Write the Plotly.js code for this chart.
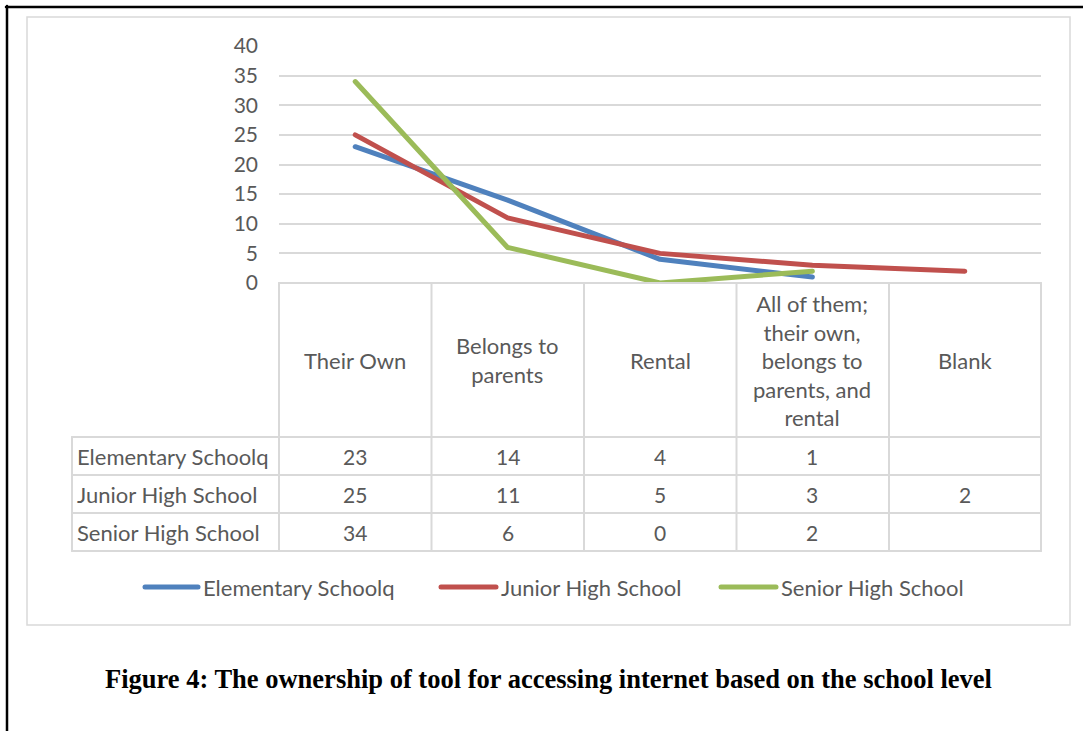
<!DOCTYPE html>
<html>
<head>
<meta charset="utf-8">
<script src="https://cdn.plot.ly/plotly-3.0.1.min.js"></script>
<style>
html,body{margin:0;padding:0;background:#fff;}
#chart{width:1083px;height:731px;}
#chart .scatterlayer path.js-line{stroke-linecap:round;stroke-linejoin:round;}
#chart .shapelayer path{stroke-linecap:round;}
</style>
</head>
<body>
<div id="chart"></div>
<script>
// ---- data ----
var categories = ["Their Own", "Belongs to<br>parents", "Rental", "All of them;<br>their own,<br>belongs to<br>parents, and<br>rental", "Blank"];
var seriesNames = ["Elementary Schoolq", "Junior High School", "Senior High School"];
var elementary = [23, 14, 4, 1, null];
var junior = [25, 11, 5, 3, 2];
var senior = [34, 6, 0, 2, null];
var yTicks = [0, 5, 10, 15, 20, 25, 30, 35, 40];
var caption = "Figure 4: The ownership of tool for accessing internet based on the school level";

var seriesValues = [elementary, junior, senior];
var colors = ["#4F81BD", "#C0504D", "#9BBB59"];

// ---- geometry helpers (pixel -> paper) ----
var L = 279, R = 1041, T = 46, B = 283;
function px(x) { return (x - L) / (R - L); }
function py(y) { return (B - y) / (B - T); }

var FONT = "Lato, 'Open Sans', sans-serif";
var TXT = "#595959";
var GRID = "#d9d9d9";

var xIdx = categories.map(function (c, i) { return i; });

var traces = seriesValues.map(function (vals, s) {
  return {
    type: "scatter",
    mode: "lines",
    name: seriesNames[s],
    x: xIdx,
    y: vals,
    connectgaps: false,
    line: { color: colors[s], width: 5 },
    hoverinfo: "skip",
    showlegend: false,
    cliponaxis: false
  };
});

var shapes = [];
var annotations = [];

function hline(x0, x1, y, color, w) {
  shapes.push({ type: "line", xref: "paper", yref: "paper", x0: px(x0), x1: px(x1), y0: py(y), y1: py(y), line: { color: color, width: w } });
}
function vline(x, y0, y1, color, w) {
  shapes.push({ type: "line", xref: "paper", yref: "paper", x0: px(x), x1: px(x), y0: py(y0), y1: py(y1), line: { color: color, width: w } });
}

// outer black frame (left and top)
hline(6, 1090, 7, "#000", 2.5);
vline(7, 6, 740, "#000", 2.5);
// chart area border
shapes.push({ type: "rect", xref: "paper", yref: "paper", x0: px(27), x1: px(1070), y0: py(17), y1: py(625), line: { color: GRID, width: 1.5 }, layer: "below" });

// data table grid
var colEdges = [279, 431.5, 584, 736.5, 889, 1041];
var rowEdges = [437, 475, 513, 551];
hline(279, 1041, 283, GRID, 2);
rowEdges.forEach(function (y) { hline(72, 1041, y, GRID, 2); });
colEdges.forEach(function (x) { vline(x, 283, 551, GRID, 2); });
vline(72, 437, 551, GRID, 2);

// header labels
categories.forEach(function (c, i) {
  annotations.push({ xref: "x", yref: "paper", x: i, y: py(360), text: c, showarrow: false, xanchor: "center", yanchor: "middle", align: "center", font: { family: FONT, size: 22, color: TXT } });
});
// table rows
var rowCenters = [456, 494, 532];
seriesValues.forEach(function (vals, s) {
  annotations.push({ xref: "paper", yref: "paper", x: px(75), y: py(rowCenters[s]), text: seriesNames[s], showarrow: false, xanchor: "left", yanchor: "middle", font: { family: FONT, size: 22, color: TXT } });
  vals.forEach(function (v, i) {
    if (v === null) return;
    annotations.push({ xref: "x", yref: "paper", x: i, y: py(rowCenters[s]), text: String(v), showarrow: false, xanchor: "center", yanchor: "middle", font: { family: FONT, size: 21, color: TXT } });
  });
});

// custom legend
var legLine = [[145, 198], [441, 496], [721, 776]];
seriesNames.forEach(function (n, s) {
  shapes.push({ type: "line", xref: "paper", yref: "paper", x0: px(legLine[s][0]), x1: px(legLine[s][1]), y0: py(587), y1: py(587), line: { color: colors[s], width: 5 } });
  annotations.push({ xref: "paper", yref: "paper", x: px(legLine[s][1] + 3), y: py(587), text: n, showarrow: false, xanchor: "left", yanchor: "middle", font: { family: FONT, size: 22, color: TXT } });
});

// caption
annotations.push({ xref: "paper", yref: "paper", x: px(548), y: py(679), text: "<b>" + caption + "</b>", showarrow: false, xanchor: "center", yanchor: "middle", font: { family: "'Liberation Serif', 'Times New Roman', serif", size: 26.5, color: "#000" } });

var layout = {
  width: 1083, height: 731,
  margin: { l: L, r: 1083 - R, t: T, b: 731 - B, pad: 0 },
  paper_bgcolor: "#fff", plot_bgcolor: "rgba(0,0,0,0)",
  showlegend: false,
  xaxis: { range: [-0.5, 4.5], showgrid: false, zeroline: false, showticklabels: false, ticks: "", showline: false, fixedrange: true },
  yaxis: { range: [0, 40], tickvals: yTicks, ticktext: yTicks.map(String), showgrid: true, gridcolor: GRID, gridwidth: 2, zeroline: false, showline: false, ticks: "", ticklabelstandoff: 20, tickfont: { family: FONT, size: 21, color: TXT }, fixedrange: true },
  shapes: shapes,
  annotations: annotations
};

Plotly.newPlot("chart", traces, layout, { displayModeBar: false, staticPlot: true });
</script>
</body>
</html>
